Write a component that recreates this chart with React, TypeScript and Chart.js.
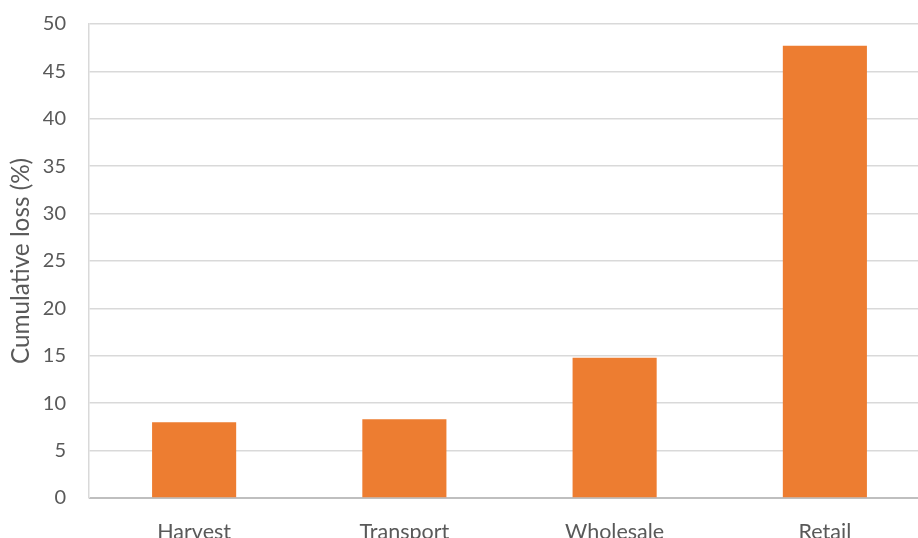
import React, { useEffect, useRef } from "react";
import { Chart, registerables } from "chart.js";

Chart.register(...registerables);

const categories = ["Harvest", "Transport", "Wholesale", "Retail"];
const cumulativeLoss = [8.0, 8.3, 14.8, 47.7];
const yMin = 0;
const yMax = 50;
const yStep = 5;

const FONT = "Lato, 'Open Sans', sans-serif";
const TEXT = "#595959";

export default function App() {
  const ref = useRef<HTMLCanvasElement>(null);

  useEffect(() => {
    if (!ref.current) return;
    const chart = new Chart(ref.current, {
      type: "bar",
      data: {
        labels: categories,
        datasets: [
          {
            data: cumulativeLoss,
            backgroundColor: "#ED7D31",
            borderWidth: 0,
            barPercentage: 0.4,
            categoryPercentage: 1,
          },
        ],
      },
      options: {
        animation: false,
        responsive: false,
        maintainAspectRatio: false,
        layout: { padding: { top: 24, left: 0, right: 0, bottom: 0 } },
        plugins: {
          legend: { display: false },
          tooltip: { enabled: false },
        },
        scales: {
          x: {
            grid: { display: false },
            border: { display: true, color: "#BFBFBF", width: 1 },
            ticks: {
              color: TEXT,
              font: { family: FONT, size: 21.5 },
              padding: 13,
              maxRotation: 0,
              autoSkip: false,
            },
            afterFit: (s: any) => {
              s.height = 50;
              s.paddingLeft = 0;
              s.paddingRight = 0;
            },
          },
          y: {
            min: yMin,
            max: yMax,
            ticks: {
              stepSize: yStep,
              color: TEXT,
              font: { family: FONT, size: 20 },
              padding: 23,
            },
            grid: {
              color: (ctx: any) => (ctx.tick && ctx.tick.value === 0 ? "#BFBFBF" : "#D9D9D9"),
              lineWidth: 1.5,
              drawTicks: false,
            },
            border: { display: true, color: "#D9D9D9", width: 1.5 },
            title: {
              display: true,
              text: "Cumulative loss (%)",
              color: TEXT,
              font: { family: FONT, size: 24.3 },
              padding: { top: 7, bottom: 0 },
            },
            afterFit: (s: any) => {
              s.width = 89;
              s.paddingTop = 0;
              s.paddingBottom = 0;
            },
          },
        },
      },
    });
    return () => chart.destroy();
  }, []);

  return (
    <div
      style={{
        position: "fixed",
        left: 0,
        top: 0,
        width: 918,
        height: 538,
        overflow: "hidden",
        background: "#ffffff",
      }}
    >
      <canvas
        ref={ref}
        width={930}
        height={548}
        style={{ display: "block", width: 930, height: 548 }}
      />
    </div>
  );
}
